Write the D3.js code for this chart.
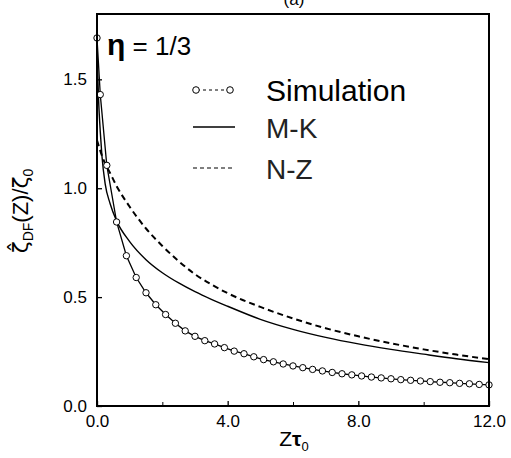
<!DOCTYPE html>
<html><head><meta charset="utf-8">
<script src="https://cdn.jsdelivr.net/npm/d3@7"></script>
<style>body{margin:0;background:#fff}svg{display:block}</style>
</head><body>
<svg id="c" width="511" height="458"></svg>
<script>
const simX = [0, 0.1, 0.3, 0.6, 0.9, 1.2, 1.5, 1.8, 2.1, 2.4, 2.7, 3.0, 3.3, 3.6, 3.9, 4.2, 4.5, 4.8, 5.1, 5.4, 5.7, 6.0, 6.3, 6.6, 6.9, 7.2, 7.5, 7.8, 8.1, 8.4, 8.7, 9.0, 9.3, 9.6, 9.9, 10.2, 10.5, 10.8, 11.1, 11.4, 11.7, 12.0];
const simY = [1.69, 1.43, 1.105, 0.845, 0.69, 0.59, 0.52, 0.465, 0.42, 0.38, 0.345, 0.32, 0.30, 0.285, 0.268, 0.252, 0.24, 0.226, 0.213, 0.203, 0.193, 0.184, 0.176, 0.168, 0.161, 0.154, 0.148, 0.143, 0.138, 0.133, 0.129, 0.125, 0.121, 0.118, 0.115, 0.112, 0.109, 0.107, 0.104, 0.102, 0.099, 0.097];
const mkX = [0, 0.05, 0.1, 0.15, 0.25, 0.4, 0.6, 1.0, 1.5, 2.0, 2.5, 3.0, 3.5, 4.0, 5.0, 6.0, 7.0, 8.0, 9.0, 10.0, 11.0, 12.0];
const mkY = [1.62, 1.40, 1.26, 1.15, 1.02, 0.93, 0.85, 0.755, 0.672, 0.612, 0.565, 0.525, 0.49, 0.458, 0.398, 0.352, 0.315, 0.285, 0.26, 0.238, 0.217, 0.199];
const nzX = [0, 0.2, 0.4, 0.6, 1.0, 1.5, 2.0, 2.5, 3.0, 3.5, 4.0, 5.0, 6.0, 7.0, 8.0, 9.0, 10.0, 11.0, 12.0];
const nzY = [1.22, 1.13, 1.07, 1.01, 0.915, 0.815, 0.735, 0.665, 0.605, 0.558, 0.518, 0.455, 0.402, 0.357, 0.32, 0.288, 0.26, 0.236, 0.215];
const xTicks = [0, 4, 8, 12];
const xMinor = [2, 6, 10];
const yTicks = [0, 0.5, 1.0, 1.5];
const legendLabels = ["Simulation", "M-K", "N-Z"];

const svg = d3.select("#c");
const L = 97, R = 489, T = 14, B = 406;
const x = d3.scaleLinear().domain([0, 12]).range([L, R]);
const y = d3.scaleLinear().domain([0, 1.8]).range([B, T]);
const font = "'Liberation Sans', Arial, sans-serif";

svg.append("text").attr("x", 294).attr("y", 5).attr("text-anchor", "middle")
  .attr("font-family", font).attr("font-size", 17).text("(a)");

const g = svg.append("g");
svg.append("clipPath").attr("id", "clip").append("rect").attr("x", L).attr("y", T).attr("width", R - L).attr("height", B - T);

const line = d3.line().x(d => x(d[0])).y(d => y(d[1])).curve(d3.curveMonotoneX);
const mk = mkX.map((v, i) => [v, mkY[i]]);
const nz = nzX.map((v, i) => [v, nzY[i]]);
const sim = simX.map((v, i) => [v, simY[i]]);

const plot = g.append("g").attr("clip-path", "url(#clip)");
plot.append("path").attr("d", line(nz)).attr("fill", "none").attr("stroke", "#000").attr("stroke-width", 2).attr("stroke-dasharray", "6,4");
plot.append("path").attr("d", line(mk)).attr("fill", "none").attr("stroke", "#000").attr("stroke-width", 1.4);
g.append("path").attr("d", d3.line().x(d => x(d[0])).y(d => y(d[1]))(sim)).attr("fill", "none").attr("stroke", "#000").attr("stroke-width", 1.3);
g.selectAll("circle.s").data(sim).join("circle").attr("class", "s")
  .attr("cx", d => x(d[0])).attr("cy", d => y(d[1])).attr("r", 3.2)
  .attr("fill", "#fff").attr("stroke", "#000").attr("stroke-width", 1);

g.append("rect").attr("x", L).attr("y", T).attr("width", R - L).attr("height", B - T)
  .attr("fill", "none").attr("stroke", "#000").attr("stroke-width", 2);

const xAxis = d3.axisBottom(x).tickValues(xTicks).tickSize(-5).tickPadding(9).tickFormat(d3.format(".1f"));
const xa = svg.append("g").attr("transform", `translate(0,${B})`).call(xAxis);
xa.select(".domain").remove();
xa.selectAll("text").attr("font-family", font).attr("font-size", 17).attr("fill", "#000");
xa.selectAll("line").attr("stroke-width", 1.3);
const xm = svg.append("g").attr("transform", `translate(0,${B})`).call(d3.axisBottom(x).tickValues(xMinor).tickSize(-4).tickFormat(""));
xm.select(".domain").remove();

const yAxis = d3.axisLeft(y).tickValues(yTicks).tickSize(-5).tickPadding(10).tickFormat(d3.format(".1f"));
const ya = svg.append("g").attr("transform", `translate(${L},0)`).call(yAxis);
ya.select(".domain").remove();
ya.selectAll("text").attr("font-family", font).attr("font-size", 17).attr("fill", "#000");
ya.selectAll("line").attr("stroke-width", 1.3);

const xt = svg.append("text").attr("x", 294).attr("y", 446).attr("text-anchor", "middle")
  .attr("font-family", font).attr("font-size", 21);
xt.append("tspan").text("Z");
xt.append("tspan").attr("font-weight", "bold").text("τ");
xt.append("tspan").attr("font-size", 13).attr("dy", 5).text("0");

const yt = svg.append("text").attr("transform", "translate(28,211) rotate(-90)").attr("text-anchor", "middle")
  .attr("font-family", "'DejaVu Sans', sans-serif").attr("font-size", 22);
yt.append("tspan").text("ζ\u0302");
yt.append("tspan").attr("font-family", font).attr("font-size", 14).attr("dy", 5).text("DF");
yt.append("tspan").attr("font-family", font).attr("dy", -5).text("(Z)/");
yt.append("tspan").text("ζ");
yt.append("tspan").attr("font-family", font).attr("font-size", 14).attr("dy", 5).text("0");

const et = svg.append("text").attr("x", 107).attr("y", 55).attr("font-family", font).attr("font-size", 26);
et.append("tspan").attr("font-weight", "bold").attr("font-size", 30).text("η");
et.append("tspan").text(" = 1/3");

const ly = [90, 127, 168];
const lg = svg.append("g");
lg.append("line").attr("x1", 196).attr("x2", 230).attr("y1", ly[0]).attr("y2", ly[0]).attr("stroke", "#000").attr("stroke-width", 1).attr("stroke-dasharray", "3,3").attr("stroke-dashoffset", -1);
[196, 230].forEach(cx => lg.append("circle").attr("cx", cx).attr("cy", ly[0]).attr("r", 3.3).attr("fill", "#fff").attr("stroke", "#000").attr("stroke-width", 1));
lg.append("line").attr("x1", 193).attr("x2", 235).attr("y1", ly[1]).attr("y2", ly[1]).attr("stroke", "#000").attr("stroke-width", 1.4);
lg.append("line").attr("x1", 193).attr("x2", 235).attr("y1", ly[2]).attr("y2", ly[2]).attr("stroke", "#000").attr("stroke-width", 1.2).attr("stroke-dasharray", "4,3");
legendLabels.forEach((t, i) => {
  lg.append("text").attr("x", 266).attr("y", ly[i] + 11).attr("font-family", font)
    .attr("font-size", i === 0 ? 30 : 28)
    .attr("fill", i === 0 ? "#000" : "#222").text(t);
});
</script>
</body></html>
